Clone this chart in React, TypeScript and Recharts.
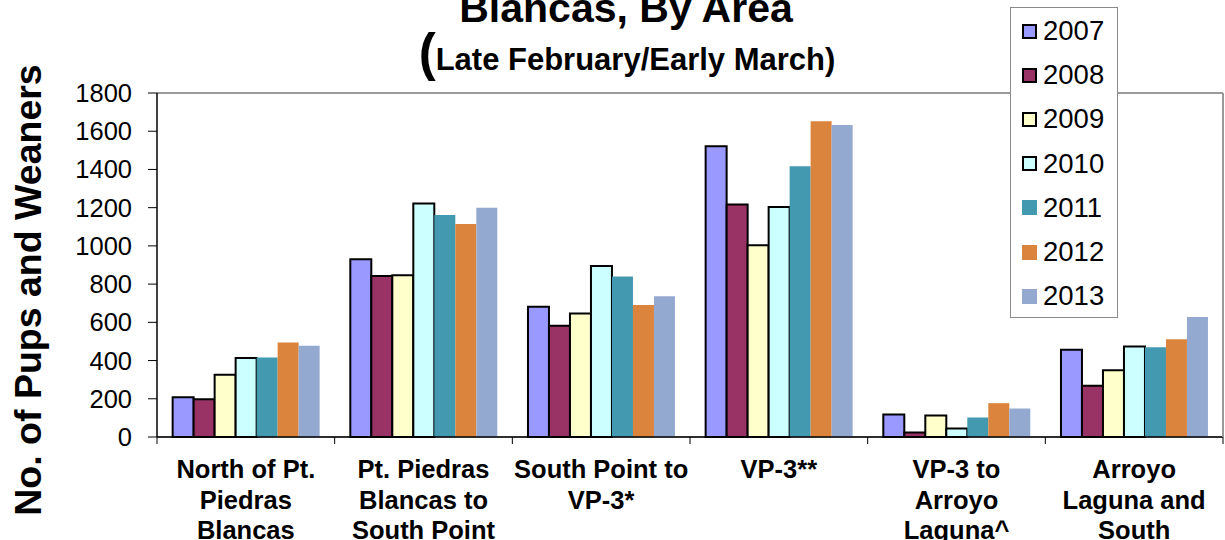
import React from "react";
import {
  BarChart,
  Bar,
  XAxis,
  YAxis,
  CartesianGrid,
  Legend,
  ReferenceLine,
} from "recharts";

// Areas (x categories) and their wrapped tick labels
const AREAS = [
  "North of Pt. Piedras Blancas",
  "Pt. Piedras Blancas to South Point",
  "South Point to VP-3*",
  "VP-3**",
  "VP-3 to Arroyo Laguna^",
  "Arroyo Laguna and South",
];
const AREA_LINES = [
  ["North of Pt.", "Piedras", "Blancas"],
  ["Pt. Piedras", "Blancas to", "South Point"],
  ["South Point to", "VP-3*"],
  ["VP-3**"],
  ["VP-3 to", "Arroyo", "Laguna^"],
  ["Arroyo", "Laguna and", "South"],
];

const YEARS = ["2007", "2008", "2009", "2010", "2011", "2012", "2013"];

// Pups and weaners per area, one array per year
const V2007 = [208, 930, 682, 1522, 118, 456];
const V2008 = [198, 842, 582, 1217, 23, 268];
const V2009 = [326, 847, 646, 1003, 112, 349];
const V2010 = [414, 1222, 895, 1203, 44, 474];
const V2011 = [416, 1161, 840, 1417, 102, 470];
const V2012 = [495, 1114, 691, 1652, 177, 512];
const V2013 = [477, 1200, 737, 1633, 149, 628];

const Y_TICKS = [0, 200, 400, 600, 800, 1000, 1200, 1400, 1600, 1800];

// Colors
const YEAR_COLORS = [
  "#9999FF",
  "#993366",
  "#FFFFCC",
  "#CCFFFF",
  "#4399B0",
  "#DB843D",
  "#94A9D0",
];
// 2007-2010 bars carry a black outline, later years don't
const OUTLINED = [true, true, true, true, false, false, false];

const FONT = "Arial, 'Liberation Sans', sans-serif";

// Layout
const W = 1225;
const H = 540;
const PLOT_LEFT = 157;
const PLOT_RIGHT = 1223;
const PLOT_TOP = 93;
const PLOT_BOTTOM = 437;
const BAND = (PLOT_RIGHT - PLOT_LEFT) / AREAS.length;

const SERIES = [V2007, V2008, V2009, V2010, V2011, V2012, V2013];
const data = AREAS.map((area, i) => {
  const row: Record<string, string | number> = { area };
  YEARS.forEach((y, k) => {
    row[y] = SERIES[k][i];
  });
  return row;
});

const AreaTick = ({ x, y, payload }: any) => {
  const idx = AREAS.indexOf(payload.value);
  const lines = AREA_LINES[idx] ?? [payload.value];
  return (
    <g>
      <line x1={x - BAND / 2} x2={x - BAND / 2} y1={y - 7} y2={y} stroke="#000" />
      {idx === AREAS.length - 1 && (
        <line x1={x + BAND / 2} x2={x + BAND / 2} y1={y - 7} y2={y} stroke="#000" />
      )}
      <text
        textAnchor="middle"
        fontSize={25.5}
        fontWeight="bold"
        fontFamily={FONT}
        fill="#000"
      >
        {lines.map((l, i) => (
          <tspan key={i} x={x} y={y + 34 + i * 30.7}>
            {l}
          </tspan>
        ))}
      </text>
    </g>
  );
};

const renderLegend = () => (
  <div
    style={{
      boxSizing: "border-box",
      width: 108,
      height: 311,
      border: "1px solid #8a8a8a",
      background: "#fff",
      paddingTop: 1,
      fontFamily: FONT,
    }}
  >
    {YEARS.map((y, k) => (
      <div
        key={y}
        style={{
          height: 44.2,
          display: "flex",
          alignItems: "center",
          paddingLeft: 11,
        }}
      >
        <span
          style={{
            boxSizing: "border-box",
            display: "inline-block",
            width: 15,
            height: 15,
            background: YEAR_COLORS[k],
            border: OUTLINED[k] ? "2px solid #000" : "none",
            marginRight: 6,
          }}
        />
        <span style={{ fontSize: 27.5, color: "#000", lineHeight: "30px" }}>{y}</span>
      </div>
    ))}
  </div>
);

export default function App() {
  return (
    <div
      style={{
        position: "absolute",
        left: 0,
        top: 0,
        width: W,
        height: H,
        background: "#fff",
      }}
    >
      <BarChart
        width={W}
        height={H}
        data={data}
        margin={{ top: PLOT_TOP, right: W - PLOT_RIGHT - 2, left: 0, bottom: 0 }}
        barCategoryGap="8.8%"
        barGap={0}
      >
        {/* Title (first line is cut off at the top of the picture) */}
        <text
          x={626}
          y={22}
          textAnchor="middle"
          fontSize={41}
          fontWeight="bold"
          fontFamily={FONT}
          fill="#000"
        >
          Blancas, By Area
        </text>
        <text
          x={627}
          y={70}
          textAnchor="middle"
          fontWeight="bold"
          fontFamily={FONT}
          fill="#000"
        >
          <tspan fontSize={51}>(</tspan>
          <tspan fontSize={31}>Late February/Early March)</tspan>
        </text>

        <CartesianGrid horizontal vertical={false} stroke="#6e6e6e" />

        <XAxis
          dataKey="area"
          height={H - PLOT_BOTTOM}
          interval={0}
          tickLine={false}
          tickSize={7}
          tickMargin={0}
          axisLine={{ stroke: "#000", strokeWidth: 1.5 }}
          tick={<AreaTick />}
        />

        <YAxis
          yAxisId="left"
          width={PLOT_LEFT}
          domain={[0, 1800]}
          ticks={Y_TICKS}
          interval={0}
          tickSize={9}
          tickMargin={16}
          axisLine={{ stroke: "#000", strokeWidth: 1.5 }}
          tickLine={{ stroke: "#000" }}
          tick={{ fontSize: 25.5, fontFamily: FONT, fill: "#000" }}
          label={{
            content: () => (
              <text
                transform="translate(41,290) rotate(-90)"
                textAnchor="middle"
                fontSize={37.5}
                fontWeight="bold"
                fontFamily={FONT}
                fill="#000"
              >
                No. of Pups and Weaners
              </text>
            ),
          }}
        />

        {/* Right-hand frame line of the plot area */}
        <YAxis
          yAxisId="right"
          orientation="right"
          width={2}
          domain={[0, 1800]}
          tick={false}
          tickLine={false}
          axisLine={{ stroke: "#999", strokeWidth: 2 }}
        />

        <ReferenceLine yAxisId="left" y={1800} stroke="#9a9a9a" strokeWidth={2} />

        {YEARS.map((y, k) => (
          <Bar
            key={y}
            yAxisId="left"
            dataKey={y}
            name={y}
            fill={YEAR_COLORS[k]}
            stroke={OUTLINED[k] ? "#000" : "none"}
            strokeWidth={OUTLINED[k] ? 2 : 0}
            isAnimationActive={false}
          />
        ))}

        <Legend
          layout="vertical"
          align="center"
          verticalAlign="middle"
          content={renderLegend}
          wrapperStyle={{ left: 1010, top: 7, width: 108, height: 311 }}
        />
      </BarChart>
    </div>
  );
}
